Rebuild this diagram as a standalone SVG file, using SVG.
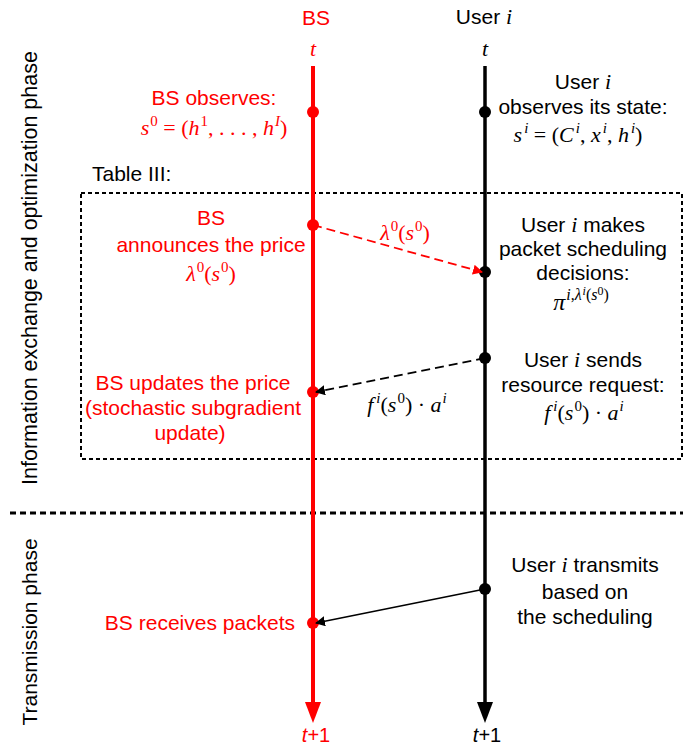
<svg xmlns="http://www.w3.org/2000/svg" width="693" height="746" viewBox="0 0 693 746">
<style>
.t{font-family:"Liberation Sans",Arial,sans-serif;font-size:21px;text-anchor:middle}
.m{font-family:"Liberation Serif","DejaVu Serif",serif;font-size:22px;text-anchor:middle}
.i{font-style:italic}
.s{font-size:15px}
.r{fill:#ff0000}
.k{fill:#000}
</style>
<defs>
<marker id="ar" viewBox="0 0 10 10" refX="9" refY="5" markerWidth="10" markerHeight="10" markerUnits="userSpaceOnUse" orient="auto"><path d="M0,0 L10,5 L0,10 z" fill="#ff0000"/></marker>
<marker id="ak" viewBox="0 0 10 10" refX="9" refY="5" markerWidth="10" markerHeight="10" markerUnits="userSpaceOnUse" orient="auto"><path d="M0,0 L10,5 L0,10 z" fill="#000"/></marker>
</defs>
<rect width="693" height="746" fill="#fff"/>

<g id="phase-labels">
<text class="t" transform="translate(37,268) rotate(-90)" style="font-size:21.5px">Information exchange and optimization phase</text>
<text class="t" transform="translate(37,632) rotate(-90)">Transmission phase</text>
</g>

<g id="table-box">
<rect x="81" y="193" width="601" height="266" fill="none" stroke="#000" stroke-width="2" stroke-dasharray="4,3"/>
<text class="t" x="92" y="181" style="text-anchor:start">Table III:</text>
</g>
<line id="separator" x1="10" y1="513" x2="683" y2="513" stroke="#000" stroke-width="3" stroke-dasharray="6,4"/>

<g id="bs-timeline">
<text class="t r" x="316" y="25">BS</text>
<text class="m r i" x="313" y="56">t</text>
<line x1="313" y1="66" x2="313" y2="702" stroke="#ff0000" stroke-width="4"/>
<path d="M305,702 L321,702 L313,723 z" fill="#ff0000"/>
<text class="t r" x="316" y="742" style="font-size:20px"><tspan font-style="italic">t</tspan>+1</text>
</g>
<g id="user-timeline">
<text class="t k" x="484" y="24">User <tspan class="m i" style="font-size:22px">i</tspan></text>
<text class="m k i" x="485" y="56">t</text>
<line x1="485" y1="66" x2="485" y2="702" stroke="#000" stroke-width="3.5"/>
<path d="M477,702 L493,702 L485,723 z" fill="#000"/>
<text class="t k" x="487" y="742" style="font-size:20px"><tspan font-style="italic">t</tspan>+1</text>
</g>

<g id="bs-observes">
<circle cx="313" cy="112" r="6" fill="#ff0000"/>
<text class="t r" x="214" y="105">BS observes:</text>
<text class="m r" x="214" y="135"><tspan class="i">s</tspan><tspan class="s" dx="1" dy="-9">0</tspan><tspan dy="9"> = (</tspan><tspan class="i">h</tspan><tspan class="s" dx="1" dy="-9">1</tspan><tspan dy="9">, . . . , </tspan><tspan class="i">h</tspan><tspan class="s i" dx="1" dy="-9">I</tspan><tspan dy="9">)</tspan></text>
</g>

<g id="user-observes">
<circle cx="485" cy="112" r="6" fill="#000"/>
<text class="t k" x="583" y="89">User <tspan class="m i">i</tspan></text>
<text class="t k" x="583" y="114">observes its state:</text>
<text class="m k" x="578" y="142"><tspan class="i">s</tspan><tspan class="s i" dx="2" dy="-9">i</tspan><tspan dy="9"> = (</tspan><tspan class="i">C</tspan><tspan class="s i" dx="2" dy="-9">i</tspan><tspan dy="9">, </tspan><tspan class="i">x</tspan><tspan class="s i" dx="2" dy="-9">i</tspan><tspan dy="9">, </tspan><tspan class="i">h</tspan><tspan class="s i" dx="2" dy="-9">i</tspan><tspan dy="9">)</tspan></text>
</g>

<g id="bs-announces">
<circle cx="313" cy="225" r="6" fill="#ff0000"/>
<text class="t r" x="211" y="225">BS</text>
<text class="t r" x="211" y="252">announces the price</text>
<text class="m r" x="211" y="281"><tspan class="i">λ</tspan><tspan class="s" dx="1" dy="-9">0</tspan><tspan dy="9">(</tspan><tspan class="i">s</tspan><tspan class="s" dx="1" dy="-9">0</tspan><tspan dy="9">)</tspan></text>
</g>

<g id="user-decides">
<circle cx="485" cy="272" r="6" fill="#000"/>
<text class="t k" x="583" y="232">User <tspan class="m i">i</tspan> makes</text>
<text class="t k" x="583" y="256">packet scheduling</text>
<text class="t k" x="583" y="280">decisions:</text>
<text class="m k" x="581" y="310" style="font-size:24px"><tspan class="i">π</tspan><tspan class="i" style="font-size:16px" dx="1" dy="-10">i</tspan><tspan style="font-size:16px">,</tspan><tspan class="i" style="font-size:16px">λ</tspan><tspan style="font-size:12px" class="i" dx="1" dy="-5">i</tspan><tspan style="font-size:16px" dy="5">(</tspan><tspan class="i" style="font-size:16px">s</tspan><tspan style="font-size:12px" dy="-5">0</tspan><tspan style="font-size:16px" dy="5">)</tspan></text>
</g>

<g id="user-sends">
<circle cx="485" cy="358" r="6" fill="#000"/>
<text class="t k" x="583" y="367">User <tspan class="m i">i</tspan> sends</text>
<text class="t k" x="583" y="392">resource request:</text>
<text class="m k" x="584" y="420"><tspan class="i">f</tspan><tspan class="s i" dx="3" dy="-9">i</tspan><tspan dy="9">(</tspan><tspan class="i">s</tspan><tspan class="s" dx="1" dy="-9">0</tspan><tspan dy="9">) · </tspan><tspan class="i">a</tspan><tspan class="s i" dx="1" dy="-9">i</tspan></text>
</g>

<g id="bs-updates">
<circle cx="313" cy="392" r="6" fill="#ff0000"/>
<text class="t r" x="193" y="390">BS updates the price</text>
<text class="t r" x="193" y="415">(stochastic subgradient</text>
<text class="t r" x="190" y="440">update)</text>
</g>

<g id="user-transmits">
<circle cx="485" cy="589" r="6" fill="#000"/>
<text class="t k" x="585" y="572">User <tspan class="m i">i</tspan> transmits</text>
<text class="t k" x="585" y="599">based on</text>
<text class="t k" x="585" y="624">the scheduling</text>
</g>

<g id="bs-receives">
<circle cx="313" cy="623" r="6" fill="#ff0000"/>
<text class="t r" x="200" y="630">BS receives packets</text>
</g>

<g id="connectors">
<line x1="313" y1="225" x2="482" y2="272" stroke="#ff0000" stroke-width="1.8" stroke-dasharray="9,5" marker-end="url(#ar)"/>
<text class="m r" x="405" y="240"><tspan class="i">λ</tspan><tspan class="s" dx="1" dy="-9">0</tspan><tspan dy="9">(</tspan><tspan class="i">s</tspan><tspan class="s" dx="1" dy="-9">0</tspan><tspan dy="9">)</tspan></text>
<line x1="485" y1="358" x2="316" y2="392" stroke="#000" stroke-width="1.8" stroke-dasharray="9,5" marker-end="url(#ak)"/>
<text class="m k" x="407" y="412"><tspan class="i">f</tspan><tspan class="s i" dx="3" dy="-9">i</tspan><tspan dy="9">(</tspan><tspan class="i">s</tspan><tspan class="s" dx="1" dy="-9">0</tspan><tspan dy="9">) · </tspan><tspan class="i">a</tspan><tspan class="s i" dx="1" dy="-9">i</tspan></text>
<line x1="485" y1="589" x2="316" y2="623" stroke="#000" stroke-width="1.5" marker-end="url(#ak)"/>
</g>
</svg>
